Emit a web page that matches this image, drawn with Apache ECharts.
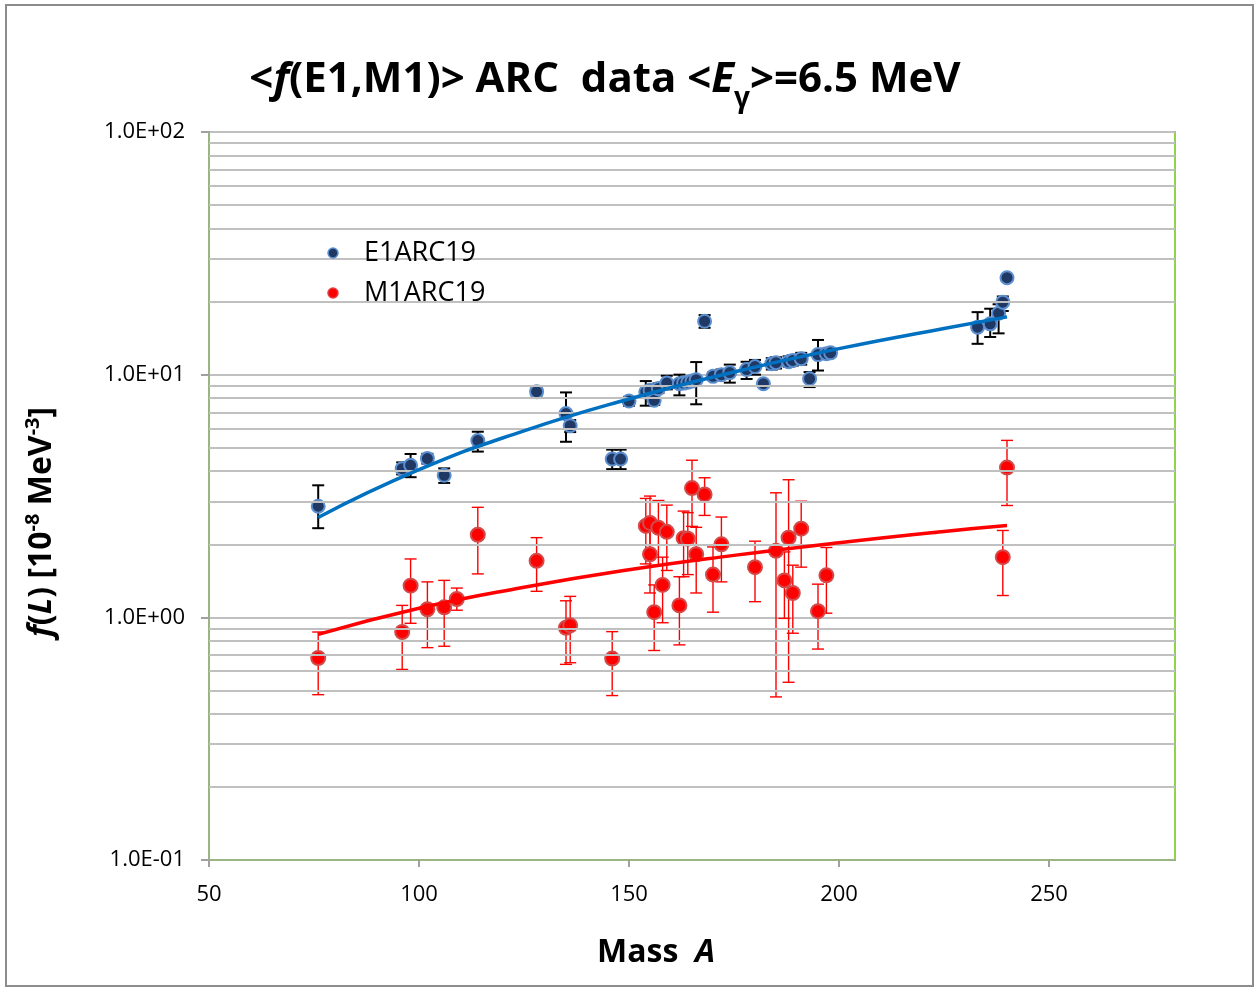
<!DOCTYPE html>
<html>
<head>
<meta charset="utf-8">
<script src="https://cdn.jsdelivr.net/npm/echarts@6/dist/echarts.min.js"></script>
<style>
html,body{margin:0;padding:0;background:#fff;}
#chart{width:1255px;height:991px;}
</style>
</head>
<body>
<div id="chart"></div>
<script>
// ---- Data ----
const e1Mass  = [76, 96, 98, 102, 106, 114, 128, 135, 136, 146, 148, 150, 154, 155, 156, 157, 159, 162, 163, 164, 165, 166, 168, 170, 172, 174, 178, 180, 182, 184, 185, 188, 189, 191, 193, 195, 197, 198, 233, 236, 238, 239, 240];
const e1Value = [2.87, 4.10, 4.23, 4.51, 3.85, 5.35, 8.51, 6.91, 6.16, 4.49, 4.49, 7.79, 8.48, 8.62, 7.84, 8.76, 9.23, 9.18, 9.23, 9.30, 9.41, 9.54, 16.6, 9.84, 10.0, 10.2, 10.5, 10.8, 9.18, 11.1, 11.2, 11.3, 11.45, 11.64, 9.62, 12.1, 12.2, 12.3, 15.7, 16.2, 17.9, 19.9, 25.1];
const e1Low   = [2.33, 3.88, 3.78, 4.30, 3.58, 4.82, 8.20, 5.29, 5.80, 4.08, 4.08, 7.45, 7.45, 8.30, 7.50, 8.40, 8.70, 8.22, 8.90, 9.00, 9.10, 7.55, 15.6, 9.50, 9.60, 9.27, 9.60, 10.0, 9.00, 10.5, 10.6, 10.8, 10.9, 11.0, 8.89, 10.4, 11.7, 11.9, 13.4, 14.3, 14.8, 18.3, 24.5];
const e1High  = [3.50, 4.35, 4.71, 4.72, 4.11, 5.82, 8.80, 8.45, 6.50, 4.91, 4.91, 8.10, 9.41, 8.95, 8.50, 9.20, 9.90, 10.0, 9.60, 9.60, 9.70, 11.27, 17.6, 10.2, 10.5, 11.0, 11.3, 11.5, 9.35, 11.7, 11.8, 11.9, 12.0, 12.3, 10.25, 13.9, 12.8, 12.8, 18.1, 18.7, 19.5, 21.0, 25.7];

const m1Mass  = [76, 96, 98, 102, 106, 109, 114, 128, 135, 136, 146, 154, 155, 155, 156, 157, 158, 159, 162, 163, 164, 165, 166, 168, 170, 172, 180, 185, 187, 188, 189, 191, 195, 197, 239, 240];
const m1Value = [0.68, 0.87, 1.35, 1.08, 1.10, 1.19, 2.19, 1.71, 0.906, 0.927, 0.676, 2.38, 2.45, 1.82, 1.05, 2.34, 1.36, 2.25, 1.12, 2.12, 2.11, 3.41, 1.82, 3.21, 1.50, 2.00, 1.61, 1.88, 1.42, 2.13, 1.26, 2.32, 1.06, 1.49, 1.77, 4.14];
const m1Low   = [0.48, 0.61, 0.945, 0.75, 0.76, 1.07, 1.51, 1.28, 0.64, 0.65, 0.476, 1.66, 1.90, 1.26, 0.73, 1.64, 0.95, 1.56, 0.77, 1.47, 1.50, 2.37, 1.26, 2.63, 1.05, 1.40, 1.16, 0.47, 0.99, 0.54, 0.86, 1.61, 0.74, 1.04, 1.23, 2.89];
const m1High  = [0.87, 1.12, 1.74, 1.40, 1.42, 1.32, 2.84, 2.13, 1.17, 1.22, 0.873, 3.09, 3.16, 2.45, 1.36, 3.03, 1.77, 2.90, 1.47, 2.74, 2.70, 4.44, 2.35, 3.76, 1.95, 2.59, 2.06, 3.26, 1.86, 3.69, 1.64, 3.01, 1.37, 1.94, 2.28, 5.36];

// Trend lines
const e1FitMass  = [76, 100, 125, 150, 175, 200, 225, 240];
const e1FitValue = [2.58, 4.06, 5.87, 7.94, 10.26, 12.8, 15.5, 17.3];
const m1FitMass  = [76, 100, 125, 150, 175, 200, 225, 240];
const m1FitValue = [0.851, 1.09, 1.33, 1.57, 1.80, 2.03, 2.26, 2.39];

// Axis ticks
const xTicks = [50, 100, 150, 200, 250];
const yMajor = [0.1, 1, 10, 100];
const yMinorGrid = [0.2,0.3,0.4,0.5,0.6,0.7,0.8,0.9, 2,3,4,5,6,7,8,9, 20,30,40,50,60,70,80,90];
const seriesNames = ['E1ARC19', 'M1ARC19'];

// ---- Build ----
const zip = (a, b) => a.map((v, i) => [v, b[i]]);
const zip3 = (a, b, c) => a.map((v, i) => [v, b[i], c[i]]);

function errRender(color, width, cap) {
  return function (params, api) {
    const x = api.value(0), lo = api.value(1), hi = api.value(2);
    const p1 = api.coord([x, hi]), p2 = api.coord([x, lo]);
    const st = { stroke: color, lineWidth: width };
    return {
      type: 'group',
      children: [
        { type: 'line', shape: { x1: p1[0], y1: p1[1], x2: p2[0], y2: p2[1] }, style: st },
        { type: 'line', shape: { x1: p1[0] - cap, y1: p1[1], x2: p1[0] + cap, y2: p1[1] }, style: st },
        { type: 'line', shape: { x1: p2[0] - cap, y1: p2[1], x2: p2[0] + cap, y2: p2[1] }, style: st }
      ]
    };
  };
}

const FONT = '"Open Sans", "Liberation Sans", sans-serif';

const chart = echarts.init(document.getElementById('chart'), null, { renderer: 'canvas' });
chart.setOption({
  animation: false,
  backgroundColor: '#fff',
  grid: { left: 209, right: 80, top: 132, bottom: 131, show: true, borderColor: '#92d050', borderWidth: 2, backgroundColor: 'transparent' },
  xAxis: {
    type: 'value', min: 50, max: 280, interval: 50,
    axisLine: { show: true, onZero: false, lineStyle: { color: '#9ab482', width: 2 } },
    axisTick: { show: true, length: 7, customValues: xTicks, lineStyle: { color: '#a0a0a0', width: 2 } },
    axisLabel: { customValues: xTicks, margin: 24, fontSize: 22, color: '#000', fontFamily: FONT },
    splitLine: { show: false }
  },
  yAxis: {
    type: 'log', logBase: 10, min: 0.1, max: 100,
    axisLine: { show: true, onZero: false, lineStyle: { color: '#9ab482', width: 2 } },
    axisTick: { show: true, length: 8, lineStyle: { color: '#a0a0a0', width: 2 } },
    axisLabel: {
      margin: 24, fontSize: 22, color: '#000', fontFamily: FONT,
      formatter: function (v) {
        const e = Math.round(Math.log10(v));
        return '1.0E' + (e < 0 ? '-' : '+') + String(Math.abs(e)).padStart(2, '0');
      }
    },
    splitLine: { show: true, lineStyle: { color: '#c0c0c0', width: 2 } },
    minorTick: { show: false }
  },
  series: [
    {
      name: 'grid-minor', type: 'line', data: [], silent: true,
      markLine: {
        silent: true, symbol: 'none', label: { show: false }, animation: false,
        lineStyle: { color: '#c0c0c0', width: 2, type: 'solid' },
        data: yMinorGrid.map(v => ({ yAxis: v }))
      }
    },
    {
      name: seriesNames[0] + ' err', type: 'custom', z: 3, silent: true,
      renderItem: errRender('#000', 2, 6),
      data: zip3(e1Mass, e1Low, e1High)
    },
    {
      name: seriesNames[1] + ' err', type: 'custom', z: 3, silent: true,
      renderItem: errRender('#ff0000', 1.4, 6),
      data: zip3(m1Mass, m1Low, m1High)
    },
    {
      name: seriesNames[0], type: 'scatter', z: 4, symbol: 'circle', symbolSize: 13,
      itemStyle: { color: '#1f3864', borderColor: '#5b8fd0', borderWidth: 2, opacity: 1 },
      data: zip(e1Mass, e1Value)
    },
    {
      name: seriesNames[1], type: 'scatter', z: 4, symbol: 'circle', symbolSize: 14,
      itemStyle: { color: '#ff0000', borderColor: '#d24a4a', borderWidth: 2, opacity: 1 },
      data: zip(m1Mass, m1Value)
    },
    {
      name: 'E1 fit', type: 'line', z: 5, smooth: true, symbol: 'none',
      lineStyle: { color: '#0070c0', width: 3.5 },
      data: zip(e1FitMass, e1FitValue)
    },
    {
      name: 'M1 fit', type: 'line', z: 5, smooth: true, symbol: 'none',
      lineStyle: { color: '#ff0000', width: 3.5 },
      data: zip(m1FitMass, m1FitValue)
    }
  ],
  graphic: [
    { type: 'rect', z: 100, shape: { x: 6, y: 5, width: 1247, height: 981 }, style: { fill: 'none', stroke: '#8c8c8c', lineWidth: 2 }, silent: true },
    {
      type: 'text', z: 100, x: 605, y: 80,
      style: {
        text: '{n|<}{i|f}{n|(E1,M1)> ARC  data <}{i|E}{s|γ}{n|>=6.5 MeV}',
        align: 'center', verticalAlign: 'middle',
        rich: {
          n: { fontSize: 42, fontWeight: 'bold', fontFamily: FONT, fill: '#000' },
          i: { fontSize: 42, fontWeight: 'bold', fontStyle: 'italic', fontFamily: FONT, fill: '#000' },
          s: { fontSize: 28, fontWeight: 'bold', fontFamily: FONT, fill: '#000', padding: [38, 0, 0, 0] }
        }
      }
    },
    {
      type: 'text', z: 100, x: 42, y: 522, rotation: Math.PI / 2,
      style: {
        text: '{i|f}{n|(}{i|L}{n|) [10}{p|-8}{n| MeV}{p|-3}{n|]}',
        align: 'center', verticalAlign: 'middle',
        rich: {
          n: { fontSize: 32, fontWeight: 'bold', fontFamily: FONT, fill: '#000' },
          i: { fontSize: 32, fontWeight: 'bold', fontStyle: 'italic', fontFamily: FONT, fill: '#000' },
          p: { fontSize: 20, fontWeight: 'bold', fontFamily: FONT, fill: '#000', padding: [0, 0, 18, 0] }
        }
      }
    },
    {
      type: 'text', z: 100, x: 656, y: 953,
      style: {
        text: '{n|Mass  }{i|A}',
        align: 'center', verticalAlign: 'middle',
        rich: {
          n: { fontSize: 32, fontWeight: 'bold', fontFamily: FONT, fill: '#000' },
          i: { fontSize: 32, fontWeight: 'bold', fontStyle: 'italic', fontFamily: FONT, fill: '#000' }
        }
      }
    },
    { type: 'circle', z: 100, shape: { cx: 333, cy: 253, r: 5 }, style: { fill: '#1f3864', stroke: '#5b8fd0', lineWidth: 1.5 } },
    { type: 'text', z: 100, x: 364, y: 253, style: { text: seriesNames[0], fontSize: 27, fontFamily: FONT, fill: '#000', verticalAlign: 'middle' } },
    { type: 'circle', z: 100, shape: { cx: 333, cy: 293, r: 5 }, style: { fill: '#ff0000', stroke: '#e04040', lineWidth: 1.5 } },
    { type: 'text', z: 100, x: 364, y: 293, style: { text: seriesNames[1], fontSize: 27, fontFamily: FONT, fill: '#000', verticalAlign: 'middle' } }
  ]
});
</script>
</body>
</html>
